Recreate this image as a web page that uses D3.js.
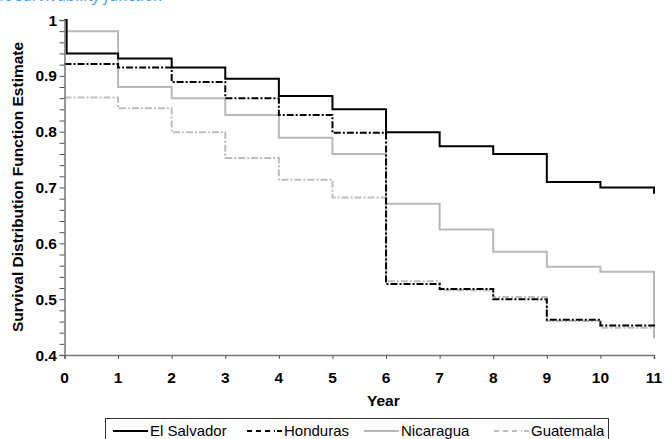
<!DOCTYPE html>
<html>
<head>
<meta charset="utf-8">
<script src="https://cdn.jsdelivr.net/npm/d3@7"></script>
<style>
  body { margin: 0; background: #fff; }
  svg { display: block; }
  text { font-family: "Liberation Sans", Arial, sans-serif; }
</style>
</head>
<body>
<script>
// datos (funcion de supervivencia por año)
var years = [0, 1, 2, 3, 4, 5, 6, 7, 8, 9, 10, 11];
var elSalvador = [0.94, 0.931, 0.915, 0.895, 0.864, 0.84, 0.799, 0.774, 0.76, 0.71, 0.70, 0.689];
var honduras   = [0.921, 0.915, 0.889, 0.86, 0.83, 0.798, 0.527, 0.518, 0.50, 0.463, 0.453, 0.448];
var nicaragua  = [0.98, 0.88, 0.86, 0.83, 0.789, 0.76, 0.671, 0.625, 0.585, 0.558, 0.549, 0.43];
var guatemala  = [0.861, 0.842, 0.799, 0.753, 0.714, 0.682, 0.532, 0.516, 0.504, 0.461, 0.449, 0.44];
var names = ["El Salvador", "Honduras", "Nicaragua", "Guatemala"];
var xTicks = [0, 1, 2, 3, 4, 5, 6, 7, 8, 9, 10, 11];
var yTicks = [0.4, 0.5, 0.6, 0.7, 0.8, 0.9, 1];

var w = 665, h = 439;
var svg = d3.select("body").append("svg")
    .attr("width", w)
    .attr("height", h);

var xScale = d3.scaleLinear().domain([0, 11]).range([64.5, 654]);
var yScale = d3.scaleLinear().domain([0.4, 1]).range([355, 20]);

// texto azul cortado arriba (pie de figura anterior)
svg.append("text")
    .attr("x", 163)
    .attr("y", 1)
    .attr("text-anchor", "end")
    .attr("font-size", "16px")
    .attr("font-style", "italic")
    .attr("fill", "#3d9be0")
    .style("font-family", "'Open Sans', sans-serif")
    .text("Kaplan-Meier estimate of the survivability function");

// estilos de las series
var series = [
  { name: names[0], values: elSalvador, color: "#000", width: 2, dash: null },
  { name: names[1], values: honduras, color: "#000", width: 2, dash: "7,2,2,2" },
  { name: names[2], values: nicaragua, color: "#b8b8b8", width: 2, dash: null },
  { name: names[3], values: guatemala, color: "#bdbdbd", width: 2, dash: "7,2,2,2" }
];

var line = d3.line()
    .x(function(d) { return xScale(d[0]); })
    .y(function(d) { return yScale(d[1]); })
    .curve(d3.curveStepAfter);

// orden de dibujo: grises debajo
[3, 2, 1, 0].forEach(function(i) {
  var s = series[i];
  var pts = years.map(function(t, j) { return [t, s.values[j]]; });
  if (i == 0) pts.unshift([0, 1]), pts[1] = [0.04, s.values[0]];
  svg.append("path")
      .attr("d", line(pts))
      .attr("fill", "none")
      .attr("stroke", s.color)
      .attr("stroke-width", s.width)
      .attr("stroke-dasharray", s.dash);
});

// eje Y con marcas menores cada 0.02
var yAxis = d3.axisLeft(yScale)
    .tickValues(d3.range(0, 31).map(function(i) { return +(0.4 + i * 0.02).toFixed(2); }))
    .tickSize(5)
    .tickFormat("");
var gy = svg.append("g")
    .attr("transform", "translate(" + xScale(0) + ",0)")
    .call(yAxis);
gy.select(".domain").attr("stroke", "#777").attr("stroke-width", 1.5);
gy.selectAll(".tick line").attr("stroke", "#555");

svg.append("g").selectAll("text")
    .data(yTicks)
    .enter()
    .append("text")
    .attr("x", 57)
    .attr("y", function(d) { return yScale(d) + 5.5; })
    .attr("text-anchor", "end")
    .attr("font-size", "15.5px")
    .attr("font-weight", "bold")
    .text(function(d) { return d3.format("")(d); });

// eje X
var xAxis = d3.axisBottom(xScale)
    .tickValues(xTicks)
    .tickSize(4)
    .tickFormat("");
var gx = svg.append("g")
    .attr("transform", "translate(0," + yScale(0.4) + ")")
    .call(xAxis);
gx.select(".domain").attr("stroke", "#777").attr("stroke-width", 1.5);
gx.selectAll(".tick line").attr("stroke", "#555");

svg.append("g").selectAll("text")
    .data(xTicks)
    .enter()
    .append("text")
    .attr("x", function(d) { return xScale(d); })
    .attr("y", 383)
    .attr("text-anchor", "middle")
    .attr("font-size", "15.5px")
    .attr("font-weight", "bold")
    .text(function(d) { return d; });

// titulos de ejes
svg.append("text")
    .attr("x", xScale(5.95))
    .attr("y", 406)
    .attr("text-anchor", "middle")
    .attr("font-size", "15.5px")
    .attr("font-weight", "bold")
    .text("Year");

svg.append("text")
    .attr("transform", "translate(23," + 187 + ") rotate(-90)")
    .attr("text-anchor", "middle")
    .attr("font-size", "15.5px")
    .attr("font-weight", "bold")
    .text("Survival Distribution Function Estimate");

// leyenda
var legend = svg.append("g");
legend.append("rect")
    .attr("x", 105.5)
    .attr("y", 418.5)
    .attr("width", 503)
    .attr("height", 30)
    .attr("fill", "#fff")
    .attr("stroke", "#333")
    .attr("stroke-width", 1);

var legX = [113, 247, 364, 494];
series.forEach(function(s, i) {
  legend.append("line")
      .attr("x1", legX[i])
      .attr("x2", legX[i] + 35)
      .attr("y1", 431)
      .attr("y2", 431)
      .attr("stroke", s.color)
      .attr("stroke-width", s.width)
      .attr("stroke-dasharray", s.dash ? "5,4,5,4,5,4,1,2" : null);
  legend.append("text")
      .attr("x", legX[i] + 37)
      .attr("y", 436)
      .attr("font-size", "15px")
      .text(s.name);
});
</script>
</body>
</html>
